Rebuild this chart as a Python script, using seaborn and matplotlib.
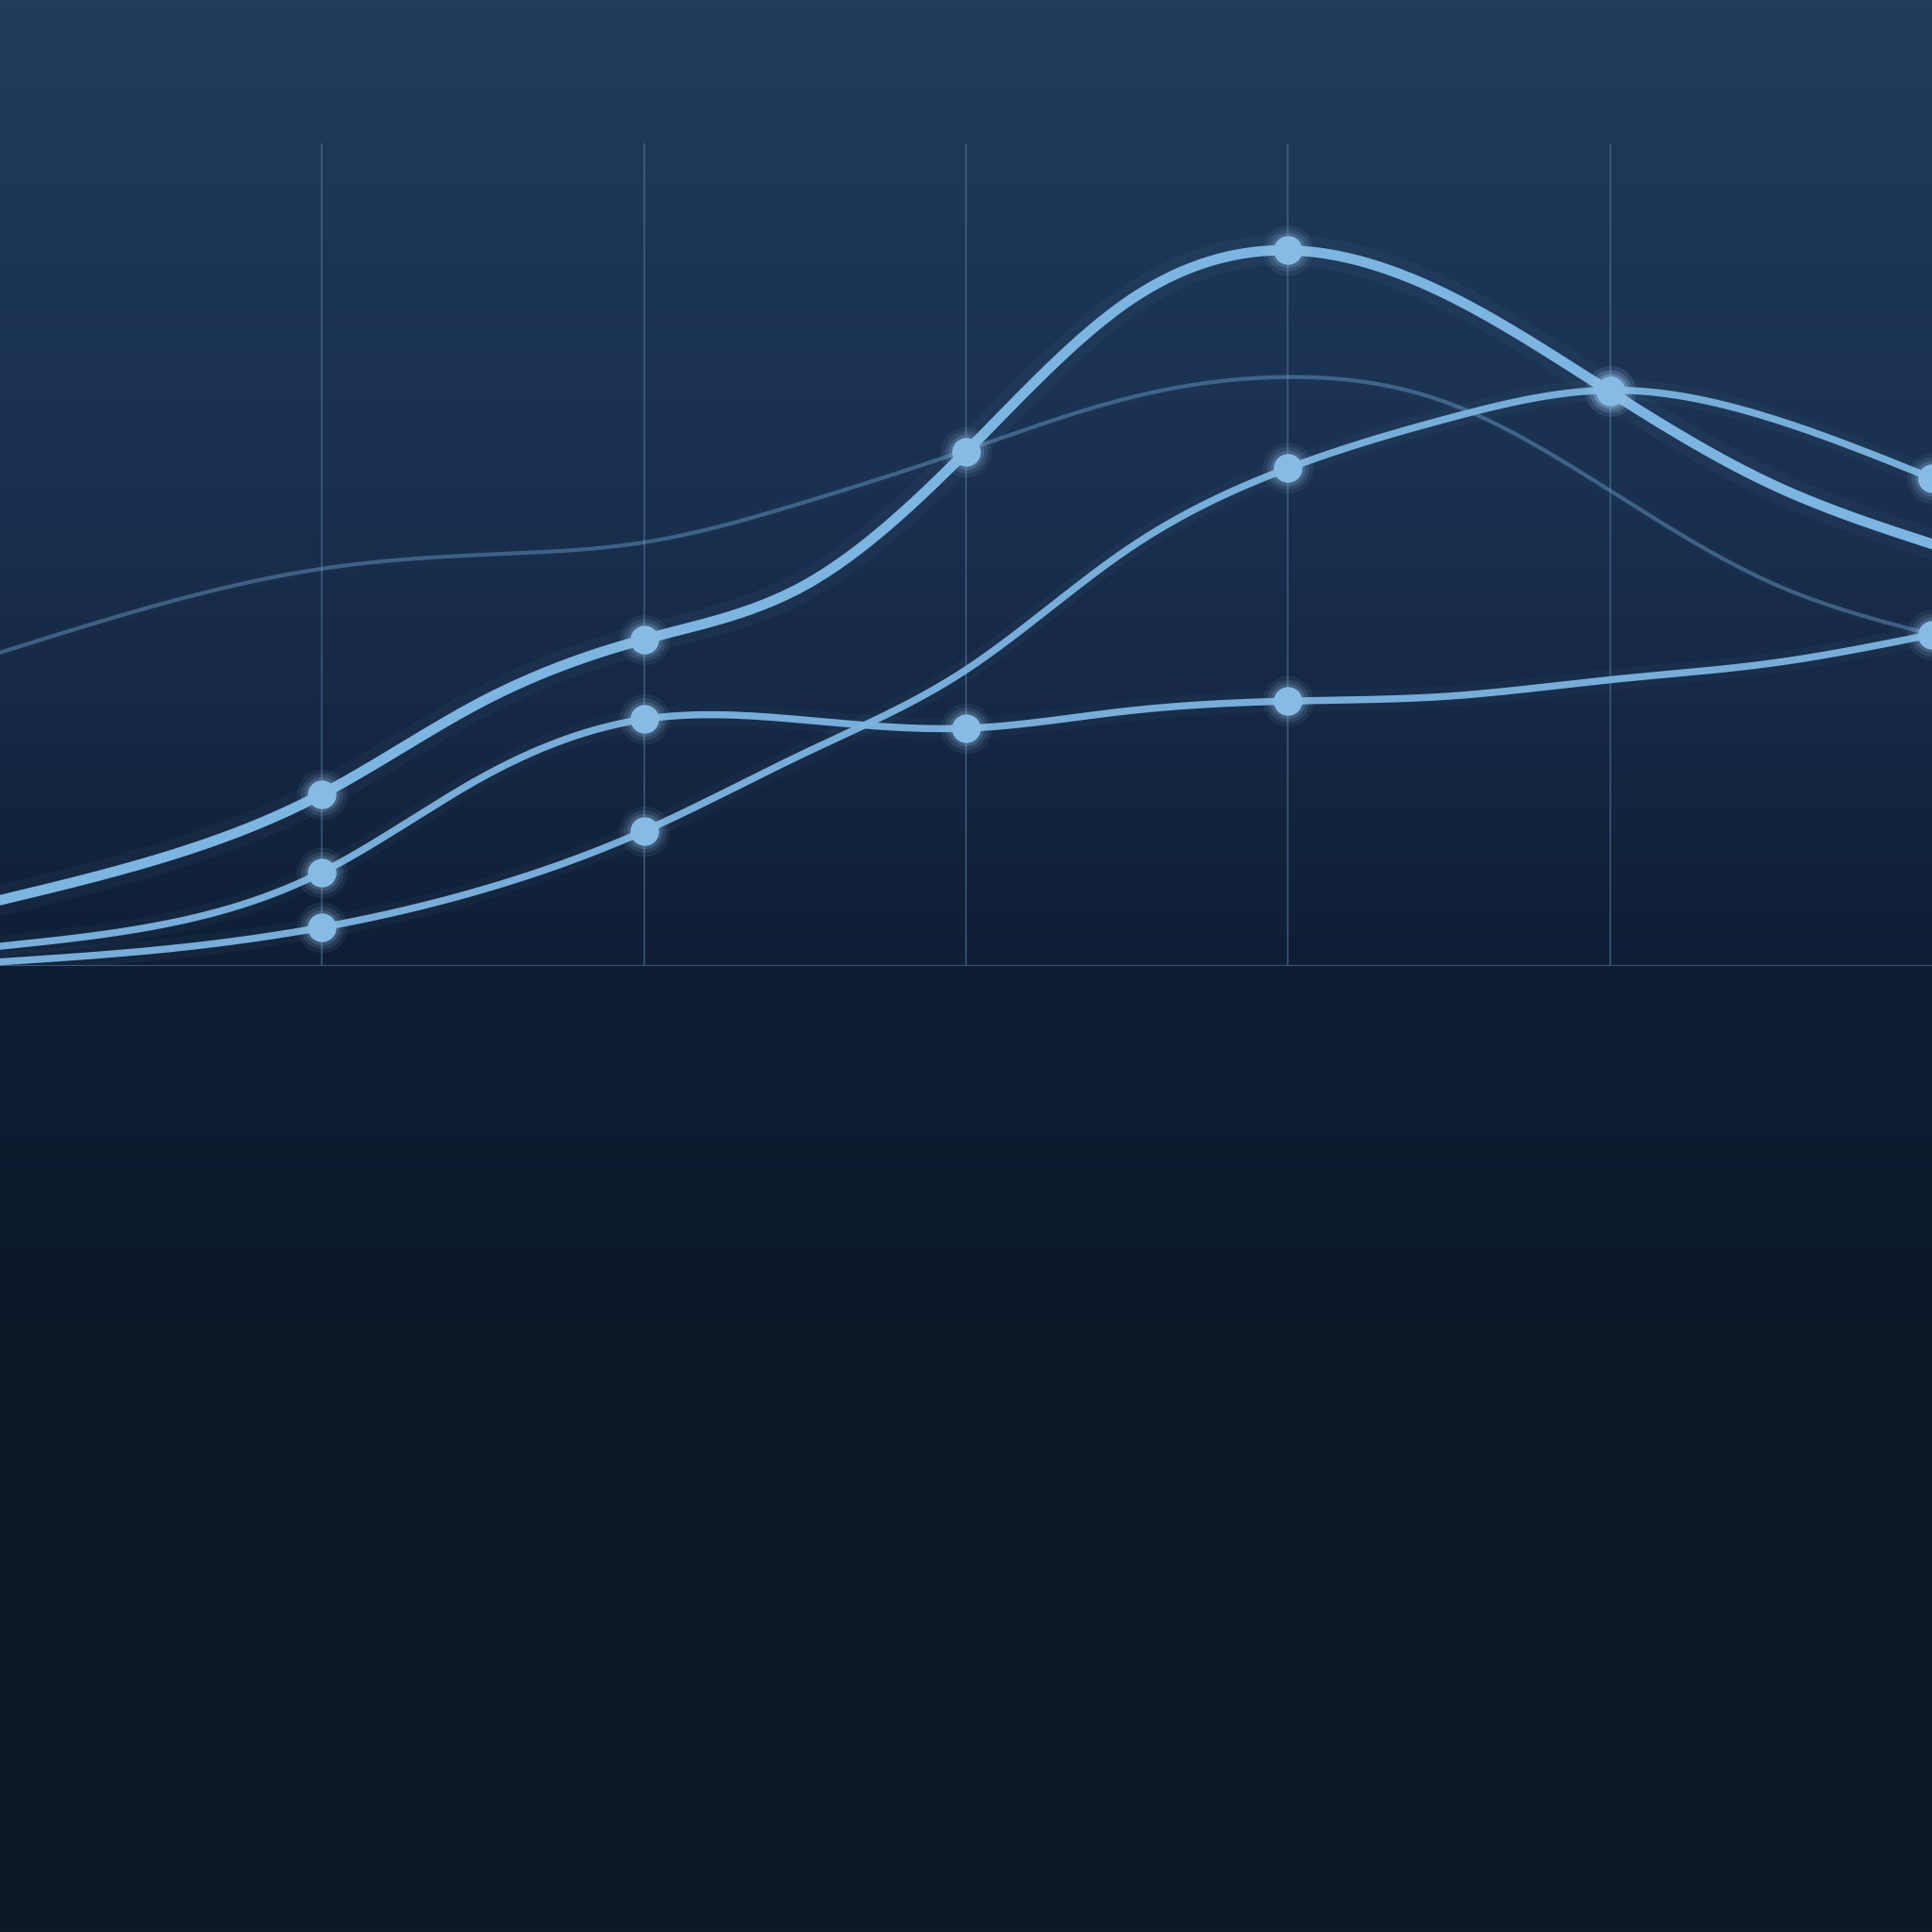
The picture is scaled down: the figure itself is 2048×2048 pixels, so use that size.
import numpy as np
import pandas as pd
import seaborn as sns
import matplotlib.pyplot as plt
from matplotlib.colors import LinearSegmentedColormap

steps = [0, 0.5, 1, 1.5, 2, 2.5, 3, 3.5, 4, 4.5, 5, 5.5, 6]
series_a = [8.0, 13.1, 20.9, 32.2, 39.7, 46.3, 62.5, 80.7, 87.0, 81.5, 69.8, 58.6, 51.3]
series_b = [2.4, 5.0, 11.4, 23.0, 30.0, 29.9, 28.9, 31.0, 32.2, 32.8, 34.8, 36.8, 40.3]
series_c = [0.5, 2.0, 4.7, 9.3, 16.4, 25.9, 36.0, 50.6, 60.5, 66.6, 70.0, 66.6, 59.3]
series_d = [38.1, 44.0, 48.3, 50.0, 51.5, 56.4, 62.7, 69.0, 71.6, 68.4, 57.8, 46.6, 40.3]

# which whole steps carry a dot
marks_a = [1, 2, 3, 4, 5]
marks_b = [1, 2, 3, 4, 6]
marks_c = [1, 2, 4, 5, 6]

line_blue = "#7db5e1"
dot_blue = "#86bbe5"


def smooth(x, y, n=30):
    # natural cubic spline through the points (drawing only)
    x = np.asarray(x, float)
    y = np.asarray(y, float)
    k = len(x)
    h = np.diff(x)
    A = np.zeros((k, k))
    r = np.zeros(k)
    A[0, 0] = A[-1, -1] = 1
    for i in range(1, k - 1):
        A[i, i - 1] = h[i - 1]
        A[i, i] = 2 * (h[i - 1] + h[i])
        A[i, i + 1] = h[i]
        r[i] = 6 * ((y[i + 1] - y[i]) / h[i] - (y[i] - y[i - 1]) / h[i - 1])
    M = np.linalg.solve(A, r)
    xs, ys = [], []
    for i in range(k - 1):
        t = np.linspace(x[i], x[i + 1], n, endpoint=False)
        a = (x[i + 1] - t) / h[i]
        b = (t - x[i]) / h[i]
        yy = (a * y[i] + b * y[i + 1]
              + ((a**3 - a) * M[i] + (b**3 - b) * M[i + 1]) * h[i] ** 2 / 6)
        xs.append(t)
        ys.append(yy)
    xs.append([x[-1]])
    ys.append([y[-1]])
    return np.concatenate(xs), np.concatenate(ys)


sns.set_theme(style="white")

fig = plt.figure(figsize=(20.48, 20.48), dpi=100)

# background gradient
bg = fig.add_axes([0, 0, 1, 1])
cmap = LinearSegmentedColormap.from_list(
    "bg",
    [(0.0, "#203b5b"), (0.25, "#1a3050"), (0.5, "#0f1e35"),
     (0.68, "#0c1729"), (1.0, "#0d1828")],
)
grad = np.linspace(0, 1, 512).reshape(-1, 1)
bg.imshow(grad, aspect="auto", cmap=cmap, extent=[0, 1, 0, 1], origin="upper")
bg.axis("off")

ax = fig.add_axes([0, 0.5, 1, 1 - 152 / 2048 - 0.5])
ax.set_facecolor("none")
ax.set_xlim(0, 6)
ax.set_ylim(0, 100)
for s in ax.spines.values():
    s.set_visible(False)
ax.set_xticks([])
ax.set_yticks([])

for gx in range(1, 6):
    ax.axvline(gx, color="#5a7fa6", lw=1.2, alpha=0.55, zorder=1)
ax.axhline(0, color="#3e5777", lw=1.6, alpha=0.9, zorder=1)

styles = [
    (series_d, 3.0, 0.38, None),
    (series_b, 5.4, 0.95, marks_b),
    (series_c, 5.4, 0.95, marks_c),
    (series_a, 7.8, 1.0, marks_a),
]

for vals, lw, alpha, marks in styles:
    xs, ys = smooth(steps, vals)
    df = pd.DataFrame({"x": xs, "y": ys})
    # soft glow under the line
    sns.lineplot(data=df, x="x", y="y", ax=ax, color=line_blue, lw=lw * 3.0,
                 alpha=0.05 * alpha, sort=False, estimator=None, zorder=2)
    sns.lineplot(data=df, x="x", y="y", ax=ax, color=line_blue, lw=lw,
                 alpha=alpha, sort=False, estimator=None, zorder=3)
    if marks:
        pts = pd.DataFrame({
            "x": marks,
            "y": [vals[steps.index(m)] for m in marks],
        })
        for size, a in [(1500, 0.08), (1050, 0.12), (720, 0.18)]:
            sns.scatterplot(data=pts, x="x", y="y", ax=ax, s=size, color="#9cc8ec",
                            alpha=a, linewidth=0, zorder=4, clip_on=False)
        sns.scatterplot(data=pts, x="x", y="y", ax=ax, s=480, color=dot_blue,
                        linewidth=0, zorder=5, clip_on=False)

ax.set_xlabel("")
ax.set_ylabel("")
ax.set_xlim(0, 6)
ax.set_ylim(0, 100)

fig.savefig("out.png", dpi=100)
